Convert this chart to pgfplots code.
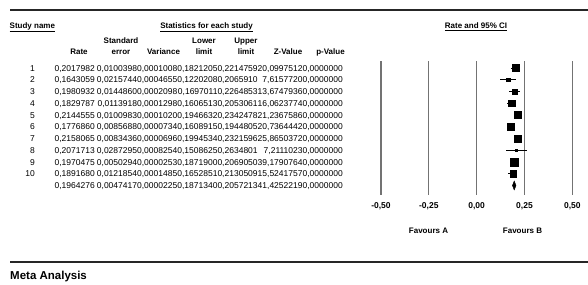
\documentclass[border=0pt]{standalone}
\usepackage{pgfplots}
\pgfplotsset{compat=1.18}
\usepackage{pgfplotstable}
\usepackage{fontspec}
\setmainfont{Liberation Sans}
\newcommand\numf{\fontsize{8.5}{10}\selectfont}
\newcommand\hdf{\fontsize{8}{9.6}\selectfont\bfseries}
\newcommand\trow[9]{%
 \node[anchor=base east] at (35,#1+3) {#2};
 \node[anchor=base east] at (95,#1+3) {#3};
 \node[anchor=base east] at (137.3,#1+3) {#4};
 \node[anchor=base east] at (177.5,#1+3) {#5};
 \node[anchor=base east] at (217.7,#1+3) {#6};
 \node[anchor=base east] at (257.9,#1+3) {#7};
 \node[anchor=base east] at (302.8,#1+3) {#8};
 \node[anchor=base east] at (343,#1+3) {#9};}
\pgfplotstableread{
row rate lo hi ms
1 0.2017982 0.1821205 0.2214759 3.5
2 0.1643059 0.1220208 0.2065910 1.8
3 0.1980932 0.1697011 0.2264853 2.3
4 0.1829787 0.1606513 0.2053061 3.2
5 0.2144555 0.1946632 0.2342478 3.5
6 0.1776860 0.1608915 0.1944805 3.8
7 0.2158065 0.1994534 0.2321596 3.6
8 0.2071713 0.1508625 0.2634801 1.3
9 0.1970475 0.1871900 0.2069050 3.8
10 0.1891680 0.1652851 0.2130509 3.1
}\studies
\begin{document}
\begin{tikzpicture}
\path[use as bounding box] (0,0) rectangle (588pt,-284pt);
\begin{axis}[at={(476.65pt,-128pt)}, anchor=center,
  width=191.3pt, height=134pt, scale only axis,
  xmin=-0.5, xmax=0.5, ymin=0.404, ymax=11.81, y dir=reverse,
  clip=false, axis line style={draw=none}, major tick length=0pt,
  ytick=\empty, xtick={-0.5,-0.25,0,0.25,0.5},
  xticklabels={{-0,50},{-0,25},{0,00},{0,25},{0,50}},
  xticklabel style={font=\fontsize{8.5}{10}\selectfont\bfseries, anchor=center, yshift=-11pt},
  xmajorgrids, grid style={black!55, line width=1.1pt}]
\addplot[only marks, mark=square*, scatter,
  scatter/use mapped color={draw=black, fill=black},
  visualization depends on={\thisrow{ms} \as \ms},
  scatter/@pre marker code/.append style={/tikz/mark size=\ms},
  error bars/.cd, x dir=both, x explicit, error mark=none,
  error bar style={line width=1pt, black}]
  table[x=rate, y=row, x error plus expr=\thisrow{hi}-\thisrow{rate},
        x error minus expr=\thisrow{rate}-\thisrow{lo}] {\studies};
\addplot[fill=black, draw=black, line width=0.4pt, mark=none]
  coordinates {(0.1871340,11) (0.1964276,10.62) (0.2057213,11) (0.1964276,11.38)} -- cycle;
\end{axis}
\begin{scope}[x=1pt, y=-1pt, every node/.style={inner sep=0pt, font=\numf}]
\draw[line width=2pt, black!85] (10,9.5) -- (588,9.5);
\draw[line width=2pt, black!85] (10,262) -- (588,262);
\node[anchor=base west, font=\hdf] at (9.5,28.4) {\underline{Study name}};
\node[anchor=base, font=\hdf] at (206.5,28.4) {\underline{Statistics for each study}};
\node[anchor=base, font=\hdf] at (476,28.4) {\underline{Rate and 95\% CI}};
\node[anchor=base, font=\hdf] at (121,43.4) {Standard};
\node[anchor=base, font=\hdf] at (204,43.4) {Lower};
\node[anchor=base, font=\hdf] at (246,43.4) {Upper};
\node[anchor=base, font=\hdf] at (79,54.4) {Rate};
\node[anchor=base, font=\hdf] at (121,54.4) {error};
\node[anchor=base, font=\hdf] at (163.5,54.4) {Variance};
\node[anchor=base, font=\hdf] at (204,54.4) {limit};
\node[anchor=base, font=\hdf] at (246,54.4) {limit};
\node[anchor=base, font=\hdf] at (288,54.4) {Z-Value};
\node[anchor=base, font=\hdf] at (330.5,54.4) {p-Value};
\trow{68}{1}{0,2017982}{0,0100398}{0,0001008}{0,1821205}{0,2214759}{20,0997512}{0,0000000}
\trow{79.75}{2}{0,1643059}{0,0215744}{0,0004655}{0,1220208}{0,2065910}{7,6157720}{0,0000000}
\trow{91.5}{3}{0,1980932}{0,0144860}{0,0002098}{0,1697011}{0,2264853}{13,6747936}{0,0000000}
\trow{103.25}{4}{0,1829787}{0,0113918}{0,0001298}{0,1606513}{0,2053061}{16,0623774}{0,0000000}
\trow{115}{5}{0,2144555}{0,0100983}{0,0001020}{0,1946632}{0,2342478}{21,2367586}{0,0000000}
\trow{126.75}{6}{0,1776860}{0,0085688}{0,0000734}{0,1608915}{0,1944805}{20,7364442}{0,0000000}
\trow{138.5}{7}{0,2158065}{0,0083436}{0,0000696}{0,1994534}{0,2321596}{25,8650372}{0,0000000}
\trow{150.25}{8}{0,2071713}{0,0287295}{0,0008254}{0,1508625}{0,2634801}{7,2111023}{0,0000000}
\trow{162}{9}{0,1970475}{0,0050294}{0,0000253}{0,1871900}{0,2069050}{39,1790764}{0,0000000}
\trow{173.75}{10}{0,1891680}{0,0121854}{0,0001485}{0,1652851}{0,2130509}{15,5241757}{0,0000000}
\trow{185.5}{}{0,1964276}{0,0047417}{0,0000225}{0,1871340}{0,2057213}{41,4252219}{0,0000000}
\node[font=\hdf] at (428.5,231) {Favours A};
\node[font=\hdf] at (522.5,231) {Favours B};
\node[anchor=base west, font=\fontsize{11.5}{13}\selectfont\bfseries] at (10,279) {Meta Analysis};
\end{scope}
\end{tikzpicture}
\end{document}
